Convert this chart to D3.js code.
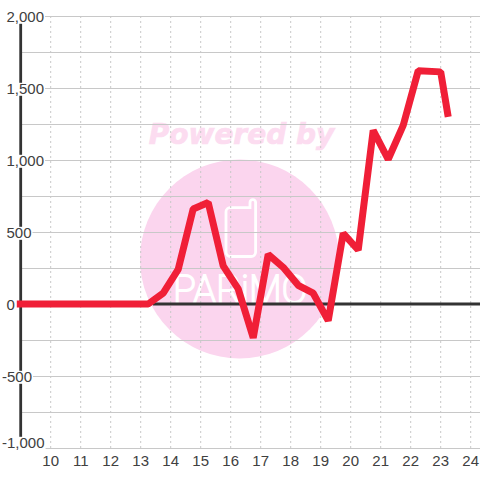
<!DOCTYPE html>
<html><head><meta charset="utf-8">
<script src="https://cdn.jsdelivr.net/npm/d3@7"></script>
<style>html,body{margin:0;padding:0;background:#fff}svg{display:block}text{font-family:"Liberation Sans",sans-serif}</style>
</head><body><svg id="c" width="480" height="480"></svg>
<script>
const hours=[8.87,13.25,13.75,14.25,14.75,15.25,15.75,16.25,16.75,17.25,17.75,18.25,18.75,19.25,19.75,20.25,20.75,21.25,21.75,22.25,23,23.25];
const values=[0,0,75,240,660,705,265,105,-235,345,255,130,75,-115,490,375,1205,1005,1240,1620,1612,1300];
const xTicks=[10,11,12,13,14,15,16,17,18,19,20,21,22,23,24];
const yTicks=[-1000,-500,0,500,1000,1500,2000];
const yMinor=[-750,-250,250,750,1250,1750];
const yTickText=["-1,000","-500","0","500","1,000","1,500","2,000"];
const watermarkTitle="Powered by";
const watermarkName="PARiMO";

const x=d3.scaleLinear().domain([10,24]).range([50.7,470.7]);
const y=d3.scaleLinear().domain([-1000,2000]).range([448,16]);
const svg=d3.select("#c");
svg.append("rect").attr("width",480).attr("height",480).attr("fill","#fff");

svg.append("circle").attr("cx",239.5).attr("cy",259).attr("r",99.5).attr("fill","#fbd5ee");
svg.append("text").text(watermarkTitle).attr("x",241.5).attr("y",143.5).attr("text-anchor","middle")
  .style("font-family","DejaVu Sans").style("font-weight","bold").style("font-style","italic").style("font-size","28px")
  .attr("fill","#fcdcf0").attr("stroke","#fcdcf0").attr("stroke-width",.7);
svg.append("path").attr("d","M230,207.7H250V202.5a2.8,2.8 0 0 1 5.6,0V252a4.5,4.5 0 0 1 -4.5,4.5H230.5a4.5,4.5 0 0 1 -4.5,-4.5V211.7a4,4 0 0 1 4,-4Z")
  .attr("fill","none").attr("stroke","#fff").attr("stroke-width",2.8);
svg.append("text").text(watermarkName).attr("x",240).attr("y",303).attr("text-anchor","middle")
  .style("font-family","Roboto").style("font-weight",100).style("font-size","38px")
  .attr("textLength",134).attr("lengthAdjust","spacing").attr("fill","#fff").attr("stroke","#fff").attr("stroke-width",2);

const grid=svg.append("g").attr("stroke","#c8c8c8").attr("fill","none");
grid.selectAll("line.v").data(xTicks).join("line").attr("x1",d=>x(d)).attr("x2",d=>x(d)).attr("y1",16).attr("y2",448).attr("stroke-dasharray","2,3");
grid.selectAll("line.h").data(yTicks.concat(yMinor)).join("line").attr("x1",20).attr("x2",480).attr("y1",d=>y(d)+.5).attr("y2",d=>y(d)+.5);

svg.append("line").attr("x1",20.7).attr("x2",20.7).attr("y1",16).attr("y2",448).attr("stroke","#333").attr("stroke-width",2.8);
svg.append("line").attr("x1",153).attr("x2",480).attr("y1",y(0)).attr("y2",y(0)).attr("stroke","#333").attr("stroke-width",2.8);

const yl=svg.append("g").selectAll("g").data(yTicks).join("g");
yl.append("text").text((d,i)=>yTickText[i]).attr("x",d=>d<0?2:6.5)
  .attr("y",d=>d===-1000?447.5:y(d)+5.5).style("font-size","15px").attr("fill","#404040")
  .each(function(){const b=this.getBBox(),t=+this.getAttribute("y");d3.select(this.parentNode).insert("rect","text").attr("x",b.x-1).attr("y",t-10.7).attr("width",b.width+2).attr("height",13).attr("fill","#fff");});
svg.append("g").selectAll("text").data(xTicks).join("text").text(d=>d).attr("x",d=>x(d)).attr("y",466).attr("text-anchor","middle").style("font-size","15px").attr("fill","#404040");

const line=d3.line().x((d,i)=>x(hours[i])).y(d=>y(d));
svg.append("path").attr("d",line(values)).attr("fill","none").attr("stroke","#f01f37").attr("stroke-width",7).attr("stroke-linejoin","bevel");
</script></body></html>
